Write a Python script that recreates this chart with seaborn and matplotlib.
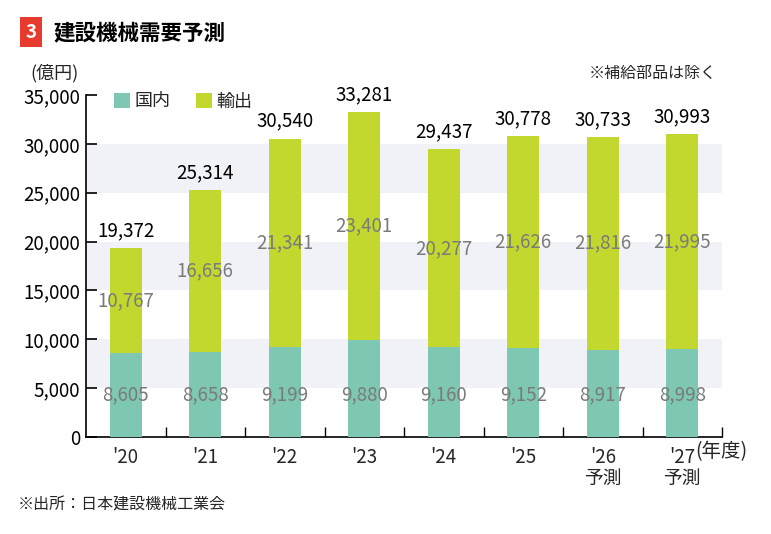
import matplotlib
matplotlib.use("Agg")
import matplotlib.pyplot as plt
import seaborn as sns
import pandas as pd
import numpy as np
from matplotlib.ticker import FuncFormatter, FixedLocator
from matplotlib.patches import Patch

years = ["'20", "'21", "'22", "'23", "'24", "'25", "'26", "'27"]
year_labels = ["'20", "'21", "'22", "'23", "'24", "'25", "'26\n予測", "'27\n予測"]
domestic = [8605, 8658, 9199, 9880, 9160, 9152, 8917, 8998]
export = [10767, 16656, 21341, 23401, 20277, 21626, 21816, 21995]
totals = [19372, 25314, 30540, 33281, 29437, 30778, 30733, 30993]

sns.set_theme(style="white")
plt.rcParams['font.family'] = ['Noto Sans CJK JP', 'DejaVu Sans']

df = pd.DataFrame({"year": years, "domestic": domestic, "export": export, "total": totals})

teal = "#7ec8b3"
lime = "#c3d82e"
grey = "#7a7a7a"

W, H = 771, 534
fig = plt.figure(figsize=(W/100, H/100), dpi=100)
ax = fig.add_axes([86/W, 1-437/H, (722-86)/W, (437-95)/H])

for lo, hi in [(5000, 10000), (15000, 20000), (25000, 30000)]:
    ax.axhspan(lo, hi, color="#f1f2f8", zorder=0, lw=0)

sns.barplot(data=df, x="year", y="total", color=lime, width=0.4, ax=ax,
            saturation=1, zorder=2, linewidth=0)
sns.barplot(data=df, x="year", y="domestic", color=teal, width=0.4, ax=ax,
            saturation=1, zorder=3, linewidth=0)

ax.set_xlim(-0.5, 7.5)
ax.set_ylim(0, 35000)
ax.set_xlabel("")
ax.set_ylabel("")

for i in range(len(years)):
    ax.text(i, totals[i] + 700, f"{totals[i]:,}", ha="center", va="bottom",
            fontsize=13.5, color="black", zorder=5)
    ax.text(i, domestic[i] + export[i] / 2, f"{export[i]:,}", ha="center", va="center",
            fontsize=13.5, color=grey, zorder=5)
    ax.text(i, 4300, f"{domestic[i]:,}", ha="center", va="center",
            fontsize=13.5, color=grey, zorder=5)

ax.yaxis.set_major_locator(FixedLocator(np.arange(0, 35001, 5000)))
ax.yaxis.set_major_formatter(FuncFormatter(lambda v, p: f"{int(v):,}"))
ax.tick_params(axis="y", direction="in", length=8, width=1.2, colors="black",
               labelsize=13.5, pad=4, left=True)
ax.set_xticks(range(len(years)))
ax.set_xticklabels(year_labels, fontsize=13.5, linespacing=1.0)
ax.tick_params(axis="x", which="major", length=0, pad=7, labelsize=13.5)
ax.xaxis.set_minor_locator(FixedLocator(np.arange(0.5, 7.6, 1.0)))
ax.tick_params(axis="x", which="minor", direction="in", length=7, width=1.0,
               color="black", bottom=True)

for s in ["top", "right"]:
    ax.spines[s].set_visible(False)
for s in ["left", "bottom"]:
    ax.spines[s].set_visible(True)
    ax.spines[s].set_color("black")
    ax.spines[s].set_linewidth(1.2)

handles = [Patch(facecolor=teal, edgecolor="none"), Patch(facecolor=lime, edgecolor="none")]
ax.legend(handles, ["国内", "輸出"], loc="upper left", bbox_to_anchor=(0.018, 1.055),
          ncol=2, frameon=False, fontsize=13, handlelength=0.9, handleheight=0.9,
          handletextpad=0.25, columnspacing=1.4)

fig.text(31/W, 1-32/H, "3", color="white", fontsize=13.5, fontweight="bold",
         ha="center", va="center",
         bbox=dict(boxstyle="square,pad=0.28", facecolor="#e8392f", edgecolor="none"))
fig.text(53/W, 1-33/H, "建設機械需要予測", fontsize=15.5, fontweight="bold",
         ha="left", va="center", color="black")
fig.text(30/W, 1-73/H, "(億円)", fontsize=13, ha="left", va="center")
fig.text(717/W, 1-73/H, "※補給部品は除く", fontsize=11.5, ha="right", va="center")
fig.text(695/W, 1-452/H, "(年度)", fontsize=14, ha="left", va="center")
fig.text(18/W, 1-505/H, "※出所：日本建設機械工業会", fontsize=11.5, ha="left", va="center")

fig.savefig("out.png", dpi=100, facecolor="white")
